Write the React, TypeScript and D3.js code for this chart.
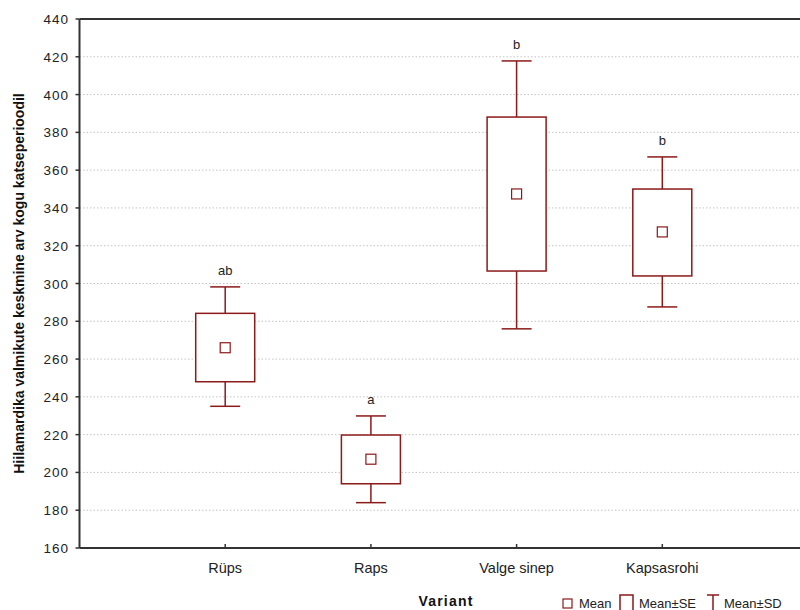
import React from "react"
import * as d3 from "d3"

const categories = ["Rüps", "Raps", "Valge sinep", "Kapsasrohi"]
const means = [266, 207, 347.4, 327.3]
const seLow = [248, 194, 306.6, 304]
const seHigh = [284.2, 219.8, 388.1, 350]
const sdLow = [235, 184, 276, 287.6]
const sdHigh = [298.2, 229.9, 417.8, 367]
const letters = ["ab", "a", "b", "b"]
const yTicks = d3.range(160, 441, 20)

const W = 800
const H = 610
const M = { left: 79.5, top: 19, bottom: 548, right: 808 }
const RED = "#8b1a1a"
const FONT = "'Liberation Sans', Arial, sans-serif"

export default function App() {
  const x = d3.scalePoint<string>().domain(categories).range([M.left, M.right]).padding(1)
  const y = d3.scaleLinear().domain([160, 440]).range([M.bottom, M.top])

  return (
    <svg width={W} height={H} style={{ position: "absolute", left: 0, top: 0, background: "#fff" }} fontFamily={FONT}>
      {/* grid */}
      {yTicks.filter(t => t > 160 && t < 440).map(t => (
        <line key={t} x1={M.left} x2={W} y1={y(t)} y2={y(t)} stroke="#c4c4c4" strokeDasharray="1.5,2" strokeWidth={1} />
      ))}

      {/* boxes */}
      {categories.map((c, i) => {
        const cx = x(c) as number
        return (
          <g key={c} stroke={RED} fill="none" strokeWidth={1.5}>
            <line x1={cx} x2={cx} y1={y(sdHigh[i])} y2={y(seHigh[i])} />
            <line x1={cx} x2={cx} y1={y(seLow[i])} y2={y(sdLow[i])} />
            <line x1={cx - 15} x2={cx + 15} y1={y(sdHigh[i])} y2={y(sdHigh[i])} />
            <line x1={cx - 15} x2={cx + 15} y1={y(sdLow[i])} y2={y(sdLow[i])} />
            <rect x={cx - 29.5} width={59} y={y(seHigh[i])} height={y(seLow[i]) - y(seHigh[i])} fill="#fff" />
            <rect x={cx - 5} y={y(means[i]) - 5} width={10} height={10} strokeWidth={1.2} />
            <text x={cx} y={y(sdHigh[i]) - 12} textAnchor="middle" fill="#222" stroke="none" fontSize={13}>
              {letters[i]}
            </text>
          </g>
        )
      })}

      {/* axes */}
      <line x1={M.left} x2={W} y1={M.top} y2={M.top} stroke="#333" strokeWidth={2} />
      <line x1={M.left} x2={W} y1={M.bottom} y2={M.bottom} stroke="#333" strokeWidth={2} />
      <line x1={M.left} x2={M.left} y1={M.top} y2={M.bottom} stroke="#333" strokeWidth={2} />
      {yTicks.map(t => (
        <g key={t}>
          <line x1={M.left - 4} x2={M.left} y1={y(t)} y2={y(t)} stroke="#333" strokeWidth={1.5} />
          <text x={69} y={y(t) + 5} textAnchor="end" fontSize={13.5} letterSpacing={1} fill="#222">
            {t}
          </text>
        </g>
      ))}
      {categories.map(c => (
        <g key={c}>
          <line x1={x(c)} x2={x(c)} y1={M.bottom - 4} y2={M.bottom} stroke="#333" strokeWidth={1.5} />
          <text x={x(c)} y={573} textAnchor="middle" fontSize={14.5} fill="#222">
            {c}
          </text>
        </g>
      ))}

      <text
        transform={`translate(24,${(M.top + M.bottom) / 2}) rotate(-90)`}
        textAnchor="middle"
        fontSize={14}
        fontWeight="bold"
        fill="#111"
      >
        Hiilamardika valmikute keskmine arv kogu katseperioodil
      </text>
      <text x={446} y={606} textAnchor="middle" fontSize={14} fontWeight="bold" letterSpacing={1.2} fill="#111">
        Variant
      </text>

      {/* legend */}
      <g fontSize={13} fill="#222">
        <rect x={563} y={599} width={9} height={9} fill="none" stroke={RED} strokeWidth={1.2} />
        <text x={579} y={608}>Mean</text>
        <path d="M620,610 V595 H633 V610" fill="none" stroke={RED} strokeWidth={1.5} />
        <text x={639} y={608}>Mean±SE</text>
        <path d="M707,595 H719 M713,595 V610" fill="none" stroke={RED} strokeWidth={1.5} />
        <text x={724} y={608}>Mean±SD</text>
      </g>
    </svg>
  )
}
